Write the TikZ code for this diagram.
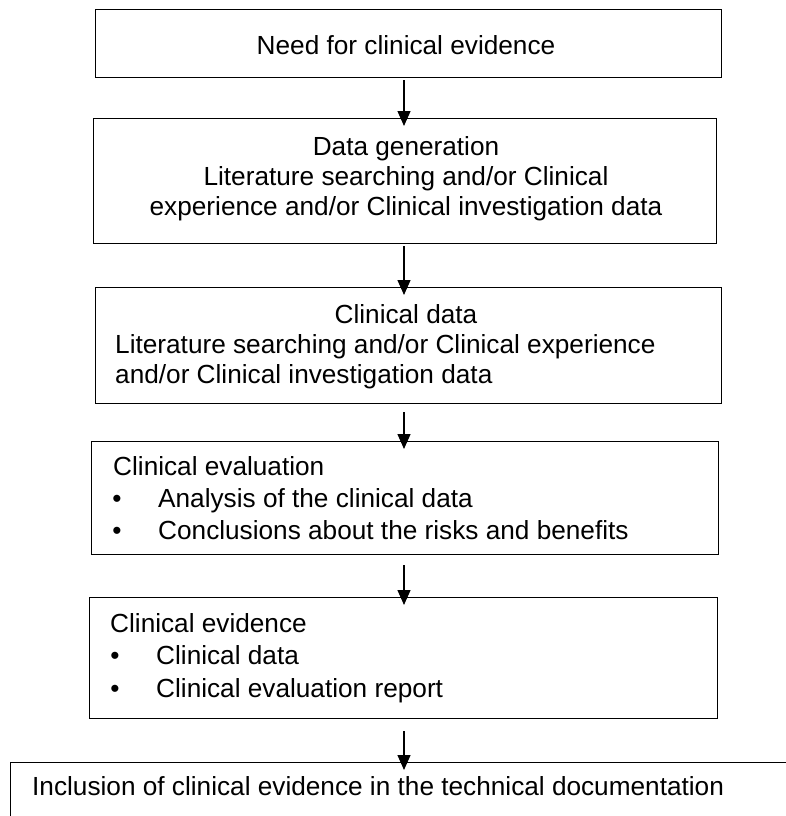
\documentclass[tikz,border=0pt]{standalone}
\usepackage{fontspec}
\setmainfont{Liberation Sans}
\usetikzlibrary{arrows.meta}
\begin{document}
\begin{tikzpicture}[x=1pt,y=-1pt,
  box/.style={draw=black,line width=1.3pt,inner sep=0pt,anchor=north west},
  txt/.style={inner sep=0pt,anchor=base west,font=\fontsize{26.2}{30}\selectfont},
  ctxt/.style={inner sep=0pt,anchor=base,font=\fontsize{26.2}{30}\selectfont},
  arr/.style={line width=1.3pt,-{Triangle[width=13pt,length=15pt]},shorten >=-8pt}]
\useasboundingbox (0,0) rectangle (785,816);
\coordinate (ax) at (404,0);
% boxes
\node[box,minimum width=626pt,minimum height=68pt] (b1) at (95,9) {};
\node[box,minimum width=623pt,minimum height=125pt] (b2) at (93,118) {};
\node[box,minimum width=626pt,minimum height=116pt] (b3) at (95,287) {};
\node[box,minimum width=627pt,minimum height=113pt] (b4) at (91,441) {};
\node[box,minimum width=628pt,minimum height=121pt] (b5) at (89,597) {};
\node[box,minimum width=800pt,minimum height=80pt] (b6) at (10,762) {};
% texts
\node[ctxt] (t1) at (406,55) {Need for clinical evidence};
\node[ctxt] (t2a) at (406,155) {Data generation};
\node[ctxt] (t2b) at (406,185) {Literature searching and/or Clinical};
\node[ctxt] (t2c) at (406,215) {experience and/or Clinical investigation data};
\node[ctxt] (t3a) at (406,323) {Clinical data};
\node[txt] (t3b) at (115,353) {Literature searching and/or Clinical experience};
\node[txt] (t3c) at (115,383) {and/or Clinical investigation data};
\node[txt] (t4a) at (113,475) {Clinical evaluation};
\node[ctxt] (u4b) at (117,507) {\textbullet};
\node[txt] (t4b) at (158,507) {Analysis of the clinical data};
\node[ctxt] (u4c) at (117,539) {\textbullet};
\node[txt] (t4c) at (158,539) {Conclusions about the risks and benefits};
\node[txt] (t5a) at (110,632) {Clinical evidence};
\node[ctxt] (u5b) at (115,664) {\textbullet};
\node[txt] (t5b) at (156,664) {Clinical data};
\node[ctxt] (u5c) at (115,697) {\textbullet};
\node[txt] (t5c) at (156,697) {Clinical evaluation report};
\node[txt] (t6) at (32,795) {Inclusion of clinical evidence in the technical documentation};
% arrows
\draw[arr,shorten <=2pt] (b1.south -| ax) -- (b2.north -| ax);
\draw[arr,shorten <=2pt] (b2.south -| ax) -- (b3.north -| ax);
\draw[arr,shorten <=8pt] (b3.south -| ax) -- (b4.north -| ax);
\draw[arr,shorten <=10pt] (b4.south -| ax) -- (b5.north -| ax);
\draw[arr,shorten <=12pt] (b5.south -| ax) -- (b6.north -| ax);
\end{tikzpicture}
\end{document}
